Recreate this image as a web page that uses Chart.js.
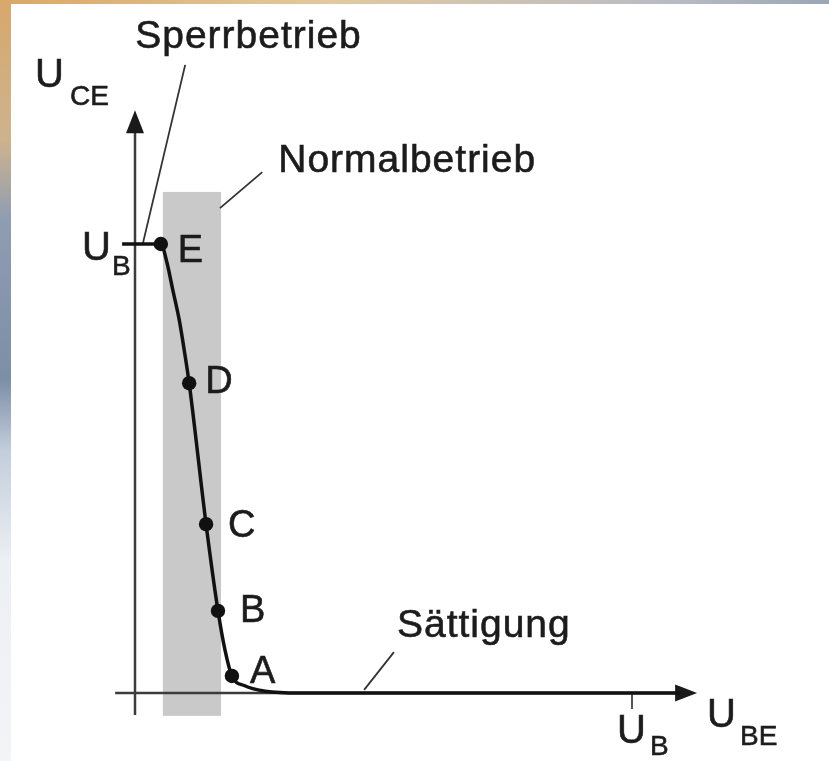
<!DOCTYPE html>
<html><head><meta charset="utf-8">
<script src="https://cdn.jsdelivr.net/npm/chart.js@4/dist/chart.umd.min.js"></script>
<style>
html,body{margin:0;padding:0;width:829px;height:761px;overflow:hidden;}
body{position:relative;background:linear-gradient(180deg,#d7a86c 0px,#cdb38e 140px,#8f9db2 220px,#7d8ea7 380px,#c3cddb 450px,#eceff4 560px,#f3f4f6 761px);}
#topstrip{position:absolute;left:0;top:0;width:829px;height:4px;background:linear-gradient(90deg,#d9a866,#e2c9a0 40%,#b9bcc4 80%,#9aa6b6);}
#paper{position:absolute;left:11px;top:4px;width:818px;height:757px;background:#fff;}
#c{position:absolute;left:0;top:0;}
</style></head>
<body>
<div id="topstrip"></div>
<div id="paper"></div>
<canvas id="c" width="829" height="761"></canvas>
<script>
// ---- data (in units of U_BE / U_CE, U_B = 10) ----
const curveX = [-0.26, 0.52, 0.64, 0.76, 0.89, 0.99, 1.09, 1.43, 1.67, 1.81, 1.95, 2.21, 2.62, 3.32, 10.97];
const curveY = [10.0, 10.0, 9.60, 8.98, 8.31, 7.64, 6.90, 3.76, 1.83, 0.96, 0.38, 0.16, 0.04, 0.0, 0.0];
const pointLabels = ['A', 'B', 'C', 'D', 'E'];
const pointX = [1.95, 1.67, 1.43, 1.09, 0.52];
const pointY = [0.38, 1.83, 3.76, 6.90, 10.0];
const U_B = 10;
const regionNormal = [0.56, 1.73];          // Normalbetrieb band (U_BE)
const regionNormalY = [-0.51, 11.16];
const axisXRange = [-0.40, 11.31];
const axisYRange = [-0.49, 12.98];
const leaderSperr = [[1.01, 13.99], [0.16, 10.02]];
const leaderNormal = [[2.56, 11.60], [1.71, 10.80]];
const leaderSatt = [[5.21, 0.91], [4.61, 0.07]];

// ---- layout / style ----
const FONT = '"Liberation Sans", Arial, Helvetica, sans-serif';
const TXT = '#1c1c1c';
const pointLabelOffsets = {A:[18,7], B:[22,11], C:[22,13], D:[16,10], E:[17,18]};

const diagram = {
  id: 'diagram',
  beforeDatasetsDraw(chart) {
    const ctx = chart.ctx, xs = chart.scales.x, ys = chart.scales.y;
    const px = v => xs.getPixelForValue(v), py = v => ys.getPixelForValue(v);
    ctx.save();
    // grey band
    ctx.fillStyle = '#c9c9c9';
    ctx.fillRect(px(regionNormal[0]), py(regionNormalY[1]),
                 px(regionNormal[1]) - px(regionNormal[0]), py(regionNormalY[0]) - py(regionNormalY[1]));
    // axes
    ctx.strokeStyle = '#3c3c3c';
    ctx.fillStyle = '#1a1a1a';
    ctx.lineWidth = 2.5;
    ctx.beginPath();
    ctx.moveTo(px(0), py(axisYRange[0]));
    ctx.lineTo(px(0), py(axisYRange[1]) + 18);
    ctx.moveTo(px(axisXRange[0]), py(0));
    ctx.lineTo(px(axisXRange[1]) - 18, py(0));
    ctx.stroke();
    // arrow heads
    const yt = py(axisYRange[1]), x0 = px(0);
    ctx.beginPath();
    ctx.moveTo(x0, yt); ctx.lineTo(x0 - 9, yt + 23); ctx.lineTo(x0 + 9, yt + 23); ctx.closePath(); ctx.fill();
    const xt = px(axisXRange[1]), y0 = py(0);
    ctx.beginPath();
    ctx.moveTo(xt, y0); ctx.lineTo(xt - 22, y0 - 8.5); ctx.lineTo(xt - 22, y0 + 8.5); ctx.closePath(); ctx.fill();
    // tick at U_B on x axis
    ctx.strokeStyle = '#555';
    ctx.lineWidth = 2;
    ctx.beginPath();
    ctx.moveTo(px(U_B), y0); ctx.lineTo(px(U_B), y0 + 16); ctx.stroke();
    // leader lines
    ctx.strokeStyle = '#333';
    ctx.lineWidth = 1.8;
    [leaderSperr, leaderNormal, leaderSatt].forEach(l => {
      ctx.beginPath();
      ctx.moveTo(px(l[0][0]), py(l[0][1]));
      ctx.lineTo(px(l[1][0]), py(l[1][1]));
      ctx.stroke();
    });
    ctx.restore();
  },
  afterDatasetsDraw(chart) {
    const ctx = chart.ctx, xs = chart.scales.x, ys = chart.scales.y;
    const px = v => xs.getPixelForValue(v), py = v => ys.getPixelForValue(v);
    ctx.save();
    ctx.fillStyle = TXT;
    ctx.strokeStyle = TXT;
    ctx.lineWidth = 0.6;
    ctx.textAlign = 'left';
    ctx.textBaseline = 'alphabetic';
    const txt = (s, x, y, size, ls) => {
      ctx.font = size + 'px ' + FONT;
      ctx.letterSpacing = (ls || 0) + 'px';
      ctx.fillText(s, x, y);
      ctx.strokeText(s, x, y);
    };
    // region labels
    txt('Sperrbetrieb', px(leaderSperr[0][0]) - 50, py(leaderSperr[0][1]) - 17, 39, 1);
    txt('Normalbetrieb', px(leaderNormal[0][0]) + 16, py(leaderNormal[0][1]), 39, 1);
    txt('Sättigung', px(leaderSatt[0][0]) + 3, py(leaderSatt[0][1]) - 15, 39, 1);
    // point labels
    pointLabels.forEach((l, i) => {
      const o = pointLabelOffsets[l];
      txt(l, px(pointX[i]) + o[0], py(pointY[i]) + o[1], 38, 0);
    });
    // axis labels
    const ax = px(0), ayt = py(axisYRange[1]);
    txt('U', ax - 100, ayt - 23, 40); txt('CE', ax - 65, ayt - 5, 28);
    const yb = py(U_B);
    txt('U', ax - 53, yb + 16, 40); txt('B', ax - 23, yb + 31, 28);
    const xb = px(U_B), y0 = py(0);
    txt('U', xb - 15, y0 + 50, 40); txt('B', xb + 18, y0 + 62, 28);
    const xt = px(axisXRange[1]);
    txt('U', xt + 10, y0 + 34, 40); txt('BE', xt + 43, y0 + 52, 28);
    ctx.restore();
  }
};

new Chart(document.getElementById('c'), {
  type: 'scatter',
  data: {
    datasets: [
      {
        label: 'Kennlinie',
        data: curveX.map((x, i) => ({x, y: curveY[i]})),
        showLine: true,
        borderColor: '#111',
        borderWidth: 3.5,
        pointRadius: 0,
        cubicInterpolationMode: 'monotone',
        clip: false
      },
      {
        label: 'Arbeitspunkte',
        data: pointX.map((x, i) => ({x, y: pointY[i]})),
        showLine: false,
        pointRadius: 7.2,
        pointBackgroundColor: '#111',
        pointBorderColor: '#111',
        pointBorderWidth: 0,
        clip: false
      }
    ]
  },
  options: {
    responsive: false,
    animation: false,
    layout: {padding: {left: 135, right: 197, top: 244, bottom: 68}},
    scales: {
      x: {type: 'linear', min: 0, max: 10, display: false},
      y: {type: 'linear', min: 0, max: 10, display: false}
    },
    plugins: {legend: {display: false}, tooltip: {enabled: false}, title: {display: false}}
  },
  plugins: [diagram]
});
</script>
</body></html>
